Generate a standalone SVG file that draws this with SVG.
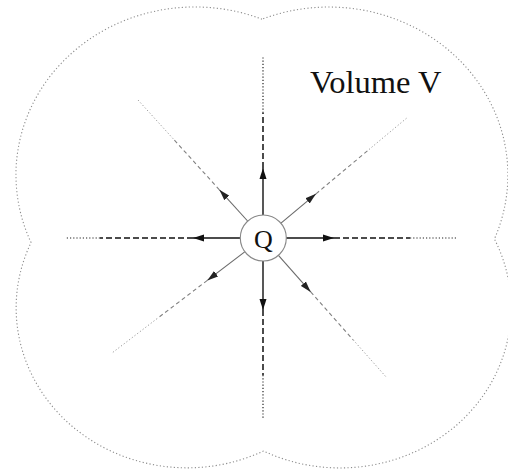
<svg xmlns="http://www.w3.org/2000/svg" width="508" height="472" viewBox="0 0 508 472">
<style>
.outline{fill:none;stroke:#8c8c8c;stroke-width:1.1;stroke-dasharray:1.2 2.3}
.ax{stroke:#111;stroke-width:1.4;fill:none}
.axd{stroke:#111;stroke-width:1.5;stroke-dasharray:6 3;fill:none}
.axt{stroke:#222;stroke-width:1.2;stroke-dasharray:1.2 2;fill:none}
.dg{stroke:#6a6a6a;stroke-width:1.1;fill:none}
.dgd{stroke:#808080;stroke-width:1.1;stroke-dasharray:4 3;fill:none}
.dgt{stroke:#999;stroke-width:1;stroke-dasharray:1.2 2.2;fill:none}
.lbl{font-family:"Liberation Serif","Times New Roman",serif;fill:#111}
</style>
<defs>
<marker id="ah" viewBox="0 -4 12 8" refX="11" refY="0" markerWidth="12" markerHeight="8" markerUnits="userSpaceOnUse" orient="auto">
<path d="M0,-3.5 L11,0 L0,3.5 z" fill="#111"/>
</marker>
<marker id="ahg" viewBox="0 -4 12 8" refX="11" refY="0" markerWidth="12" markerHeight="8" markerUnits="userSpaceOnUse" orient="auto">
<path d="M0,-3.3 L11,0 L0,3.3 z" fill="#222"/>
</marker>
</defs>
<rect width="508" height="472" fill="#fff"/>
<g id="volume">
<path class="outline" d="M262,19.2 A179,168 0 0 0 31.05,242.5 A171,160 0 0 0 263.5,451 A171,160 0 0 0 494.4,239 A179,168 0 0 0 262,19.2 Z"/>
<text class="lbl" x="310" y="93" font-size="32.5">Volume V</text>
</g>
<g id="connectors">
<line class="ax" x1="263" y1="215" x2="263" y2="168" marker-end="url(#ah)"/>
<line class="axd" x1="263" y1="168" x2="263" y2="113"/>
<line class="axt" x1="263" y1="113" x2="263" y2="57"/>
<line class="ax" x1="263" y1="261" x2="263" y2="310" marker-end="url(#ah)"/>
<line class="axd" x1="263" y1="310" x2="263" y2="375"/>
<line class="axt" x1="263" y1="375" x2="263" y2="418"/>
<line class="ax" x1="240" y1="238" x2="193" y2="238" marker-end="url(#ah)"/>
<line class="axd" x1="193" y1="238" x2="100" y2="238"/>
<line class="axt" x1="100" y1="238" x2="65" y2="238"/>
<line class="ax" x1="286" y1="238" x2="334" y2="238" marker-end="url(#ah)"/>
<line class="axd" x1="334" y1="238" x2="410" y2="238"/>
<line class="axt" x1="410" y1="238" x2="458" y2="238"/>
<line class="dg" x1="247.6" y1="221" x2="219.4" y2="189.8" marker-end="url(#ahg)"/>
<line class="dgd" x1="219.4" y1="189.8" x2="173.1" y2="138.7"/>
<line class="dgt" x1="173.1" y1="138.7" x2="138" y2="100"/>
<line class="dg" x1="280.7" y1="223.3" x2="316" y2="193.8" marker-end="url(#ahg)"/>
<line class="dgd" x1="316" y1="193.8" x2="369" y2="149.5"/>
<line class="dgt" x1="369" y1="149.5" x2="408" y2="117"/>
<line class="dg" x1="244.7" y1="251.9" x2="207.3" y2="280.4" marker-end="url(#ahg)"/>
<line class="dgd" x1="207.3" y1="280.4" x2="157.1" y2="318.6"/>
<line class="dgt" x1="157.1" y1="318.6" x2="112" y2="353"/>
<line class="dg" x1="278.2" y1="255.2" x2="310.7" y2="291.9" marker-end="url(#ahg)"/>
<line class="dgd" x1="310.7" y1="291.9" x2="353.2" y2="339.9"/>
<line class="dgt" x1="353.2" y1="339.9" x2="387" y2="378"/>
</g>
<g id="charge">
<circle cx="263.3" cy="238" r="23" fill="#fff" stroke="#888" stroke-width="1.1"/>
<text class="lbl" x="263.3" y="247.5" font-size="26" text-anchor="middle">Q</text>
</g>
</svg>
